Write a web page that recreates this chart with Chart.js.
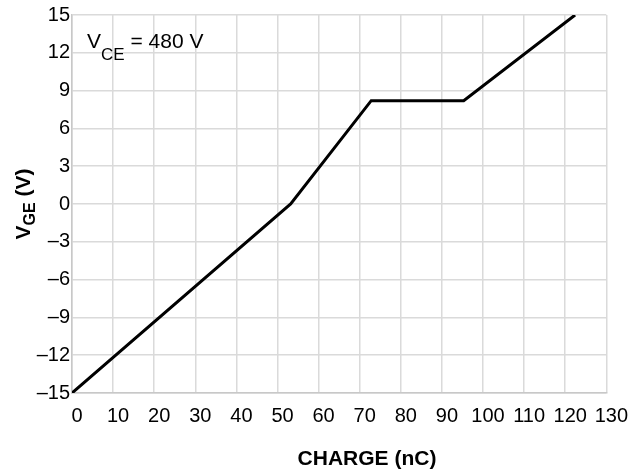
<!DOCTYPE html>
<html>
<head>
<meta charset="utf-8">
<script src="https://cdn.jsdelivr.net/npm/chart.js@4"></script>
<style>
  html, body { margin: 0; padding: 0; background: #fff; }
  #wrap { width: 634px; height: 472px; }
</style>
</head>
<body>
<div id="wrap"><canvas id="chart"></canvas></div>
<script>
// gate charge curve
const charge = [0, 53.2, 72.8, 95.3, 122.4];
const vge = [-15, 0, 8.2, 8.2, 15];
const xTicks = [0, 10, 20, 30, 40, 50, 60, 70, 80, 90, 100, 110, 120, 130];
const yTicks = [-15, -12, -9, -6, -3, 0, 3, 6, 9, 12, 15];

const FONT = '"Liberation Sans", Arial, sans-serif';

// draws a run of [text, size, dy] pieces, left to right
function drawPieces(ctx, pieces, x, y, weight) {
    let cx = x;
    pieces.forEach(([txt, size, dy]) => {
        ctx.font = weight + ' ' + size + 'px ' + FONT;
        ctx.fillText(txt, cx, y + dy);
        cx += ctx.measureText(txt).width;
    });
}

const labels = {
    id: 'labels',
    afterDraw(chart) {
        const ctx = chart.ctx;
        ctx.save();
        ctx.fillStyle = '#000';
        ctx.textBaseline = 'alphabetic';
        ctx.textAlign = 'left';

        // note in the top left corner
        drawPieces(ctx, [['V', 21, 0], ['CE', 17, 12], [' = 480 V', 21, 0]], 87, 48, 'normal');

        // x title
        ctx.font = 'bold 21px ' + FONT;
        ctx.textAlign = 'center';
        ctx.fillText('CHARGE (nC)', 367, 465);

        // y title, rotated
        ctx.translate(30, 204);
        ctx.rotate(-Math.PI / 2);
        ctx.textAlign = 'left';
        const parts = [['V', 21, 0], ['GE', 16, 5], [' (V)', 21, 0]];
        let w = 0;
        parts.forEach(([t, s]) => { ctx.font = 'bold ' + s + 'px ' + FONT; w += ctx.measureText(t).width; });
        drawPieces(ctx, parts, -w / 2, 0, 'bold');
        ctx.restore();
    }
};

new Chart(document.getElementById('chart'), {
    type: 'line',
    data: {
        datasets: [{
            data: charge.map((x, i) => ({ x, y: vge[i] })),
            borderColor: '#000',
            borderWidth: 3,
            pointRadius: 0,
            fill: false,
            tension: 0,
        }],
    },
    options: {
        responsive: true,
        maintainAspectRatio: false,
        animation: false,
        layout: { padding: { top: 15, right: 26, left: 0, bottom: 0 } },
        plugins: { legend: { display: false }, tooltip: { enabled: false } },
        scales: {
            x: {
                type: 'linear',
                min: 0,
                max: 130,
                afterBuildTicks: (s) => { s.ticks = xTicks.map((v) => ({ value: v })); },
                afterFit: (s) => { s.height = 79; },
                grid: { color: '#dadada', lineWidth: 1.5, drawTicks: false },
                border: { color: '#c8c8c8', width: 1.5 },
                ticks: {
                    color: '#000',
                    font: { family: FONT, size: 20 },
                    padding: 11,
                    labelOffset: 5,
                    maxRotation: 0,
                    autoSkip: false,
                },
            },
            y: {
                min: -15,
                max: 15,
                afterBuildTicks: (s) => { s.ticks = yTicks.map((v) => ({ value: v })); },
                afterFit: (s) => { s.width = 72; },
                grid: { color: '#dadada', lineWidth: 1.5, drawTicks: false },
                border: { color: '#c8c8c8', width: 1.5 },
                ticks: {
                    color: '#000',
                    font: { family: FONT, size: 20 },
                    padding: 2,
                    callback: (v) => String(v).replace('-', '\u2013'),
                },
            },
        },
    },
    plugins: [labels],
});
</script>
</body>
</html>
